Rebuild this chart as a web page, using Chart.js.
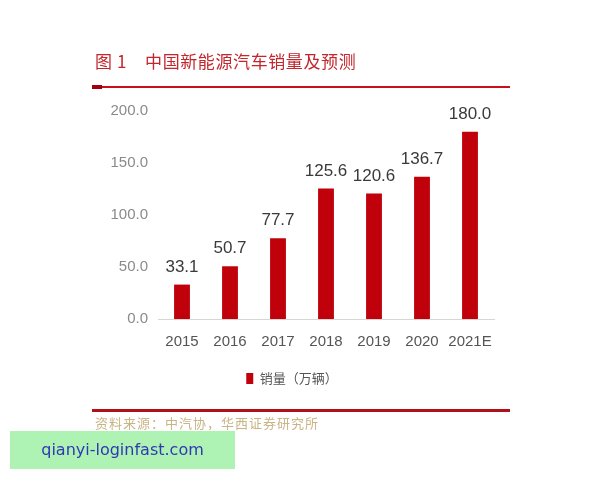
<!DOCTYPE html>
<html>
<head>
<meta charset="utf-8">
<script src="https://cdn.jsdelivr.net/npm/chart.js@4/dist/chart.umd.min.js"></script>
<style>
  html, body { margin: 0; padding: 0; background: #fff; }
  #wrap { position: relative; width: 600px; height: 480px; overflow: hidden; }
  #chart { position: absolute; left: 0; top: 0; }
  .title { position: absolute; left: 95px; top: 48px; color: #c3262c; font: 17px "Noto Sans CJK SC", sans-serif; letter-spacing: 0.6px; white-space: nowrap; }
  .title span { margin-right: 18px; }
  .rule { position: absolute; left: 92px; width: 418px; background: #c8101a; }
  .rule.top { top: 86px; height: 2px; }
  .rule.top:before { content: ""; position: absolute; left: 0; top: -1px; width: 10px; height: 4px; background: #a00010; }
  .rule.bottom { top: 409px; height: 3px; background: #b0101a; }
  .source { position: absolute; left: 95px; top: 413px; color: #c9b486; font: 13px "Noto Sans CJK SC", sans-serif; letter-spacing: 1px; white-space: nowrap; }
  .mark { position: absolute; left: 10px; top: 431px; width: 225px; height: 38px; background: #aef2b4; color: #3038b4; font: 16px "DejaVu Sans", sans-serif; line-height: 38px; text-align: center; }
</style>
</head>
<body>
<div id="wrap">
  <canvas id="chart" width="600" height="480"></canvas>
  <div class="title"><span>图 1</span>中国新能源汽车销量及预测</div>
  <div class="rule top"></div>
  <div class="rule bottom"></div>
  <div class="source">资料来源：中汽协，华西证券研究所</div>
  <div class="mark">qianyi-loginfast.com</div>
</div>
<script>
const years = ['2015', '2016', '2017', '2018', '2019', '2020', '2021E'];
const sales = [33.1, 50.7, 77.7, 125.6, 120.6, 136.7, 180.0];
const seriesName = '销量（万辆）';
const yTicks = [0, 50, 100, 150, 200];

const numFont = '"Liberation Sans", Arial, sans-serif';

// value labels above each bar
const barValues = {
    id: 'barValues',
    afterDatasetsDraw(chart){
        const ctx = chart.ctx;
        const meta = chart.getDatasetMeta(0);
        ctx.save();
        ctx.font = '17px ' + numFont;
        ctx.fillStyle = '#3a3a3a';
        ctx.textAlign = 'center';
        ctx.textBaseline = 'bottom';
        meta.data.forEach((bar, i) => {
            ctx.fillText(sales[i].toFixed(1), bar.x, bar.y - 9);
        });
        ctx.restore();
    }
};

const chart = new Chart(document.getElementById('chart'), {
    type: 'bar',
    data: {
        labels: years,
        datasets: [{
            label: seriesName,
            data: sales,
            backgroundColor: '#c0000b',
            borderWidth: 0,
            categoryPercentage: 1,
            barPercentage: 0.33
        }]
    },
    options: {
        responsive: false,
        animation: false,
        layout: { padding: { left: 90, right: 106, top: 111, bottom: 85 } },
        plugins: {
            tooltip: { enabled: false },
            legend: {
                position: 'bottom',
                labels: {
                    boxWidth: 7,
                    boxHeight: 11,
                    padding: 7,
                    color: '#555',
                    font: { family: '"Noto Sans CJK SC", sans-serif', size: 13 }
                }
            }
        },
        scales: {
            x: {
                grid: { display: false, drawTicks: false },
                border: { display: true, color: '#d6d6d6', width: 1 },
                ticks: {
                    color: '#555',
                    padding: 14,
                    maxRotation: 0,
                    autoSkip: false,
                    font: { family: numFont, size: 15 }
                }
            },
            y: {
                min: 0,
                max: 200,
                afterFit(scale){ scale.width = 68; },
                afterBuildTicks(scale){ scale.ticks = yTicks.map(v => ({ value: v })); },
                grid: { display: false, drawTicks: false },
                border: { display: false },
                ticks: {
                    color: '#8a8a8a',
                    padding: 10,
                    font: { family: numFont, size: 15 },
                    callback: v => Number(v).toFixed(1)
                }
            }
        }
    },
    plugins: [barValues]
});
</script>
</body>
</html>
